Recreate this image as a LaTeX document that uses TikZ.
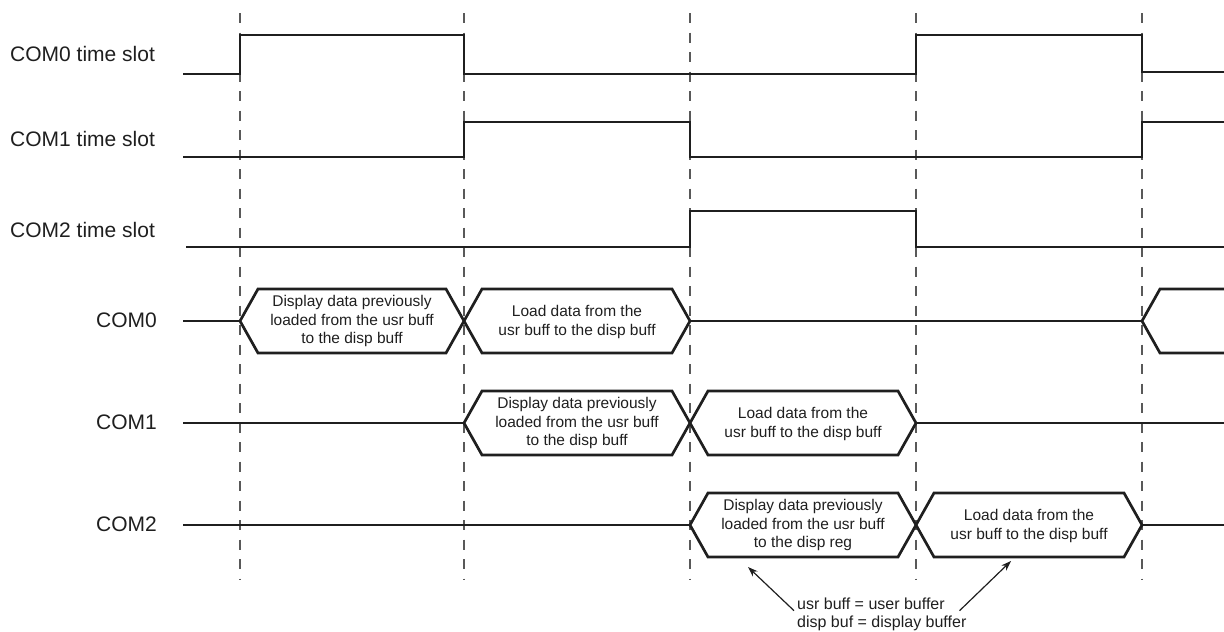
\documentclass[tikz,border=0pt]{standalone}
\usepackage{fontspec}
\setmainfont{Liberation Sans}
\usetikzlibrary{arrows.meta}

\begin{document}
\begin{tikzpicture}[x=1pt,y=-1pt,
    sig/.style={line width=2.7pt,black!88,line join=miter},
    slotline/.style={dash pattern=on 10pt off 9.5pt,black!65,line width=1.4pt},
    lbl/.style={inner sep=0pt,text=black!88,font=\fontsize{21}{25}\selectfont},
    hextxt/.style={align=center,inner sep=0pt,text=black!88,font=\fontsize{15.5}{18.5}\selectfont},
    notetxt/.style={align=left,inner sep=0pt,text=black!88,font=\fontsize{16}{18}\selectfont},
    pointer/.style={-{Stealth[length=10pt,width=7pt]},line width=1.2pt,black!88}]
            \def\tA{240}
            \def\tB{464}
            \def\tC{690}
            \def\tD{916}
            \def\tE{1142}
            \def\s{18}
            \def\h{32}

            \useasboundingbox (0,0) rectangle (1224,632);

            % slot boundaries
            \foreach \xx in {\tA,\tB,\tC,\tD,\tE}
                \draw[slotline] (\xx,13) -- (\xx,580);

            % time slots
            \node[lbl,anchor=west] (ts0) at (10,54) {COM0 time slot};
            \node[lbl,anchor=west] (ts1) at (10,139) {COM1 time slot};
            \node[lbl,anchor=west] (ts2) at (10,230) {COM2 time slot};

            \draw[sig] (183,74) -- (\tA,74) -- (\tA,35) -- (\tB,35) -- (\tB,74) -- (\tD,74) -- (\tD,35) -- (\tE,35) -- (\tE,72) -- (1224,72);
            \draw[sig] (183,157) -- (\tB,157) -- (\tB,122) -- (\tC,122) -- (\tC,157) -- (\tE,157) -- (\tE,122) -- (1224,122);
            \draw[sig] (186,247) -- (\tC,247) -- (\tC,211) -- (\tD,211) -- (\tD,247) -- (1224,247);

            % bus lines
            \node[lbl,anchor=east] (c0) at (157,320) {COM0};
            \node[lbl,anchor=east] (c1) at (157,422) {COM1};
            \node[lbl,anchor=east] (c2) at (157,524) {COM2};

            \foreach \xa/\xb/\yy in {\tA/\tB/321, \tB/\tC/321, \tB/\tC/423, \tC/\tD/423, \tC/\tD/525, \tD/\tE/525}
                \draw[sig] (\xa,\yy) -- ({\xa+\s},{\yy-\h}) -- ({\xb-\s},{\yy-\h}) -- (\xb,\yy) -- ({\xb-\s},{\yy+\h}) -- ({\xa+\s},{\yy+\h}) -- cycle;

            \draw[sig] (183,321) -- (\tA,321);
            \draw[sig] (\tC,321) -- (\tE,321);
            \draw[sig] (1224,{321-\h}) -- ({\tE+\s},{321-\h}) -- (\tE,321) -- ({\tE+\s},{321+\h}) -- (1224,{321+\h});
            \draw[sig] (183,423) -- (\tB,423);
            \draw[sig] (\tD,423) -- (1224,423);
            \draw[sig] (183,525) -- (\tC,525);
            \draw[sig] (\tE,525) -- (1224,525);

            \node[hextxt] (disp0) at (352,321) {Display data previously\\loaded from the usr buff\\to the disp buff};
            \node[hextxt] (load0) at (577,322) {Load data from the\\usr buff to the disp buff};
            \node[hextxt] (disp1) at (577,423) {Display data previously\\loaded from the usr buff\\to the disp buff};
            \node[hextxt] (load1) at (803,424) {Load data from the\\usr buff to the disp buff};
            \node[hextxt] (disp2) at (803,525) {Display data previously\\loaded from the usr buff\\to the disp reg};
            \node[hextxt] (load2) at (1029,526) {Load data from the\\usr buff to the disp buff};

            % abbreviations
            \node[notetxt,anchor=north west] (note) at (797,598) {usr buff = user buffer\\disp buf = display buffer};
            \coordinate (pA) at (748,567);
            \coordinate (pB) at (1011,561);
            \draw[pointer] ([xshift=-3pt,yshift=4pt]note.west) -- (pA);
            \draw[pointer] ([xshift=-7pt,yshift=4pt]note.east) -- (pB);
        \end{tikzpicture}
\end{document}
